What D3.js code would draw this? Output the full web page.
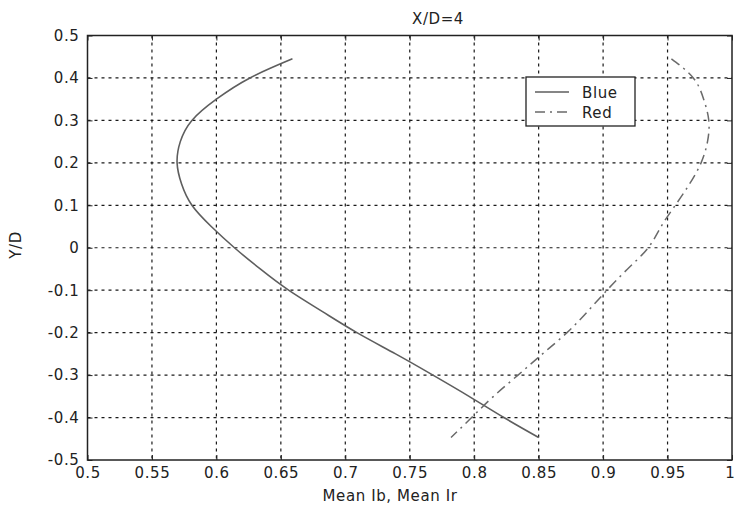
<!DOCTYPE html>
<html>
<head>
<meta charset="utf-8">
<script src="https://cdn.jsdelivr.net/npm/d3@7"></script>
<style>
  html, body { margin: 0; padding: 0; background: #fff; }
  svg { display: block; }
  text { font-family: "DejaVu Sans", sans-serif; fill: #222; letter-spacing: 0.6px; }
</style>
</head>
<body>
<svg id="chart" width="734" height="509"></svg>
<script>
// ---- data ----
const yValues = [0.445, 0.4, 0.35, 0.3, 0.25, 0.2, 0.15, 0.1, 0.05, 0, -0.05, -0.1, -0.15, -0.2, -0.25, -0.3, -0.35, -0.4, -0.447];
const blueValues = [0.659, 0.626, 0.600, 0.581, 0.572, 0.5695, 0.573, 0.581, 0.596, 0.614, 0.634, 0.656, 0.682, 0.709, 0.739, 0.768, 0.796, 0.823, 0.850];
const redValues  = [0.953, 0.970, 0.978, 0.982, 0.981, 0.976, 0.967, 0.956, 0.945, 0.935, 0.919, 0.903, 0.888, 0.872, 0.853, 0.834, 0.815, 0.798, 0.782];
const xTicks = [0.5, 0.55, 0.6, 0.65, 0.7, 0.75, 0.8, 0.85, 0.9, 0.95, 1];
const yTicks = [-0.5, -0.4, -0.3, -0.2, -0.1, 0, 0.1, 0.2, 0.3, 0.4, 0.5];
const xTickLabels = ["0.5", "0.55", "0.6", "0.65", "0.7", "0.75", "0.8", "0.85", "0.9", "0.95", "1"];
const yTickLabels = ["-0.5", "-0.4", "-0.3", "-0.2", "-0.1", "0", "0.1", "0.2", "0.3", "0.4", "0.5"];
const seriesNames = ["Blue", "Red"];
const titleText = "X/D=4";
const xLabel = "Mean Ib, Mean Ir";
const yLabel = "Y/D";

// ---- layout ----
const L = 87.5, R = 732, T = 35.5, B = 460;
const FS = 15;
const svg = d3.select("#chart");
const x = d3.scaleLinear().domain([0.5, 1]).range([L, R]);
const y = d3.scaleLinear().domain([-0.5, 0.5]).range([B, T]);

// grid
const grid = svg.append("g");
grid.selectAll("line.vg").data(xTicks.slice(1, -1)).join("line")
  .attr("x1", d => x(d)).attr("x2", d => x(d)).attr("y1", T).attr("y2", B)
  .attr("stroke", "#1a1a1a").attr("stroke-width", 1.2).attr("stroke-dasharray", "3,4");
grid.selectAll("line.hg").data(yTicks.slice(1, -1)).join("line")
  .attr("x1", L).attr("x2", R).attr("y1", d => y(d)).attr("y2", d => y(d))
  .attr("stroke", "#1a1a1a").attr("stroke-width", 1.2).attr("stroke-dasharray", "3,4");

// axes
const fmtX = (d, i) => xTickLabels[i];
const fmtY = (d, i) => yTickLabels[i];
const axB = svg.append("g").attr("transform", `translate(0,${B})`)
  .call(d3.axisBottom(x).tickValues(xTicks).tickFormat(fmtX).tickSizeInner(-5).tickSizeOuter(0).tickPadding(7));
const axL = svg.append("g").attr("transform", `translate(${L},0)`)
  .call(d3.axisLeft(y).tickValues(yTicks).tickFormat(fmtY).tickSizeInner(-5).tickSizeOuter(0).tickPadding(8));
const axT = svg.append("g").attr("transform", `translate(0,${T})`)
  .call(d3.axisTop(x).tickValues(xTicks).tickFormat("").tickSizeInner(-5).tickSizeOuter(0));
const axR = svg.append("g").attr("transform", `translate(${R},0)`)
  .call(d3.axisRight(y).tickValues(yTicks).tickFormat("").tickSizeInner(-5).tickSizeOuter(0));
[axB, axL, axT, axR].forEach(a => {
  a.select(".domain").remove();
  a.selectAll(".tick line").attr("stroke", "#222");
  a.selectAll("text").attr("font-size", FS).attr("fill", "#222")
    .attr("font-family", "'DejaVu Sans', sans-serif");
});
// keep the last x label inside the window
axB.selectAll(".tick text").filter((d, i) => i === xTicks.length - 1)
  .attr("text-anchor", "end").attr("dx", 3);

// frame
svg.append("rect").attr("x", L).attr("y", T).attr("width", R - L).attr("height", B - T)
  .attr("fill", "none").attr("stroke", "#222").attr("stroke-width", 1.5);

// lines
const pts = vals => vals.map((v, i) => [v, yValues[i]]);
const line = d3.line().x(d => x(d[0])).y(d => y(d[1])).curve(d3.curveNatural);
svg.append("path").datum(pts(blueValues)).attr("d", line)
  .attr("fill", "none").attr("stroke", "#5e5e5e").attr("stroke-width", 1.6);
svg.append("path").datum(pts(redValues)).attr("d", line)
  .attr("fill", "none").attr("stroke", "#6a6a6a").attr("stroke-width", 1.5)
  .attr("stroke-dasharray", "10,5,2,5");

// legend
const lg = svg.append("g");
lg.append("rect").attr("x", 526).attr("y", 77).attr("width", 109).attr("height", 49)
  .attr("fill", "#fff").attr("stroke", "#222").attr("stroke-width", 1.3);
const lgY = [92, 112];
lg.append("line").attr("x1", 535).attr("x2", 569).attr("y1", lgY[0]).attr("y2", lgY[0])
  .attr("stroke", "#5e5e5e").attr("stroke-width", 1.6);
lg.append("line").attr("x1", 535).attr("x2", 569).attr("y1", lgY[1]).attr("y2", lgY[1])
  .attr("stroke", "#6a6a6a").attr("stroke-width", 1.5).attr("stroke-dasharray", "10,5,2,5");
lg.selectAll("text").data(seriesNames).join("text")
  .attr("x", 582).attr("y", (d, i) => lgY[i] + 5.5).attr("font-size", FS).text(d => d);

// titles
svg.append("text").attr("x", 438).attr("y", 23.5).attr("text-anchor", "middle")
  .attr("font-size", FS).text(titleText);
svg.append("text").attr("x", 390).attr("y", 501).attr("text-anchor", "middle")
  .attr("font-size", FS).text(xLabel);
svg.append("text").attr("transform", "translate(21,245) rotate(-90)").attr("text-anchor", "middle")
  .attr("font-size", FS).text(yLabel);
</script>
</body>
</html>
